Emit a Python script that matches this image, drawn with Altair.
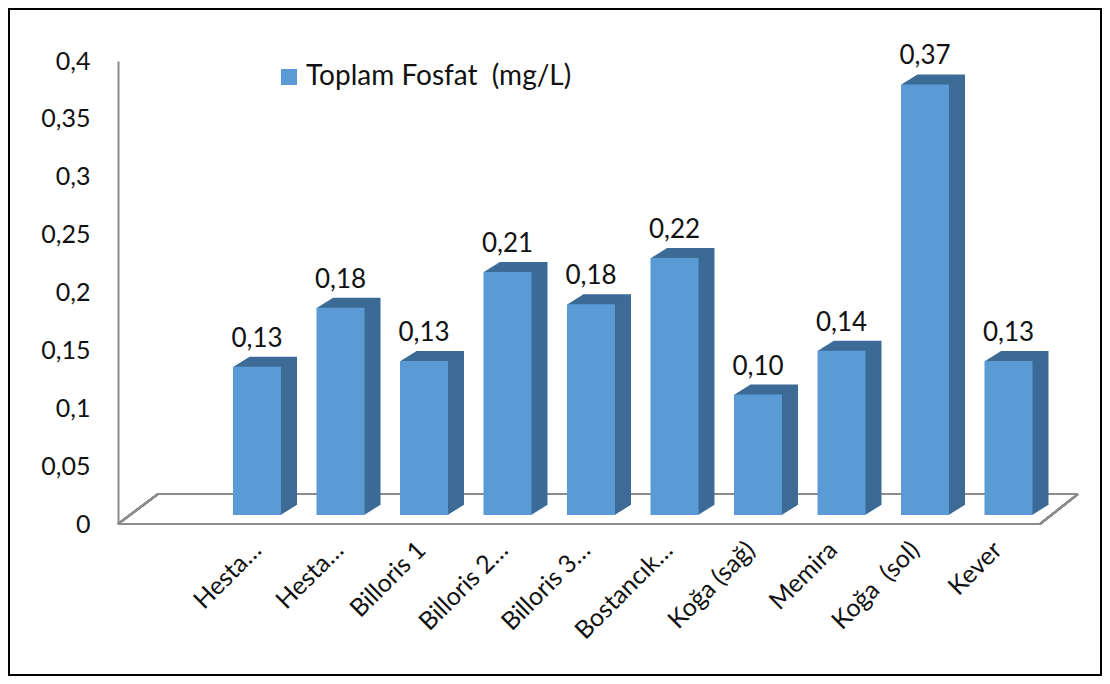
import altair as alt
import pandas as pd

# ---- data ----
categories = ["Hesta…", "Hesta…", "Billoris 1", "Billoris 2…", "Billoris 3…",
              "Bostancık…", "Koğa (sağ)", "Memira", "Koğa\u00a0\u00a0(sol)", "Kever"]
values = [0.128, 0.179, 0.133, 0.210, 0.182, 0.222, 0.104, 0.142, 0.372, 0.133]
series_name = "Toplam Fosfat\u00a0\u00a0(mg/L)"
y_ticks = [0, 0.05, 0.1, 0.15, 0.2, 0.25, 0.3, 0.35, 0.4]

idx = list(range(len(categories)))
df = pd.DataFrame({
    "idx": idx,
    "value": values,
    "series": [series_name] * len(categories),
})

FONT = "Lato"
FRONT = "#5b9bd5"
SIDE = "#3d6b96"
GREY = "#8c8c8c"
INK = "#111111"

W, H = 960, 463
PAD_L, PAD_T, CANVAS_W, CANVAS_H = 110, 53, 1094, 668

label_expr = "[" + ",".join("'" + c + "'" for c in categories) + "][datum.value]"

# band scale used by the bars (front faces)
x_bar = alt.X("idx:O",
              scale=alt.Scale(paddingInner=0.425, paddingOuter=0.961, align=0.7165),
              axis=None)
# category label axis (Excel projects the labels slightly differently from the bars)
x_lab = alt.X("idx:Q",
              scale=alt.Scale(domain=[-1.58, 10.085], nice=False, zero=False),
              axis=alt.Axis(title=None, orient="bottom", values=idx, labelExpr=label_expr,
                            labelAngle=-45, labelAlign="right", labelBaseline="top",
                            labelFont=FONT, labelFontSize=25, labelColor=INK,
                            labelPadding=13, labelLimit=0, labelFlush=False,
                            labelOverlap=False, ticks=False, domain=False, grid=False))
y_enc = alt.Y("value:Q",
              scale=alt.Scale(domain=[0, 0.4], nice=False),
              axis=alt.Axis(title=None, values=y_ticks, format=".2~f",
                            labelExpr="replace(datum.label, '.', ',')",
                            labelFont=FONT, labelFontSize=25, labelColor=INK,
                            labelPadding=28, ticks=False, grid=False,
                            domainColor=GREY, domainWidth=2))

base = alt.Chart(df)

# depth (3D side/top faces) drawn as stacked offset copies behind the front face
DEPTH_X, DEPTH_Y, STEPS = 16, 10, 16
shadow_layers = []
for k in range(STEPS, 0, -1):
    dx = DEPTH_X * k / STEPS
    dy = -9 - DEPTH_Y * k / STEPS
    shadow_layers.append(
        base.mark_bar(color=SIDE, xOffset=dx, x2Offset=dx, yOffset=dy, y2Offset=dy)
        .encode(x=x_bar, y=y_enc)
    )

front = base.mark_bar(yOffset=-9, y2Offset=-9).encode(
    x=x_bar, y=y_enc,
    color=alt.Color("series:N", scale=alt.Scale(range=[FRONT]),
                    legend=alt.Legend(title=None, orient="none", legendX=157, legendY=2,
                                      symbolType="square", symbolSize=256,
                                      symbolStrokeWidth=0, labelFont=FONT,
                                      labelFontSize=28, labelColor=INK,
                                      labelOffset=3, labelLimit=0, padding=0)),
)

text = base.transform_calculate(
    lbl="replace(format(datum.value, '.2f'), '.', ',')"
).mark_text(font=FONT, fontSize=26, color=INK, align="center",
            baseline="alphabetic", yOffset=-29).encode(
    x=x_bar, y=y_enc, text="lbl:N")

# floor of the 3D plot area
floor_front = alt.Chart(df).mark_rule(color=GREY, strokeWidth=2).encode(
    x=alt.value(0), x2=alt.value(922), y=alt.value(H))
floor_back = alt.Chart(df).mark_rule(color=GREY, strokeWidth=2).encode(
    x=alt.value(40), x2=alt.value(W), y=alt.value(H - 30))
floor_left = alt.Chart(df).mark_rule(color=GREY, strokeWidth=2).encode(
    x=alt.value(0), x2=alt.value(40), y=alt.value(H), y2=alt.value(H - 30))
floor_right = alt.Chart(df).mark_rule(color=GREY, strokeWidth=2).encode(
    x=alt.value(922), x2=alt.value(W), y=alt.value(H), y2=alt.value(H - 30))

frame = alt.Chart(df).mark_rect(fillOpacity=0, stroke="black", strokeWidth=2).encode(
    x=alt.value(-PAD_L + 1), x2=alt.value(CANVAS_W - PAD_L - 1),
    y=alt.value(-PAD_T + 1), y2=alt.value(CANVAS_H - PAD_T - 1))

bars = alt.layer(frame, floor_back, floor_left, floor_right, floor_front,
                 *shadow_layers, front, text)

labels_layer = base.mark_point(opacity=0).encode(x=x_lab, y=y_enc)

chart = alt.layer(bars, labels_layer).resolve_scale(x="independent").properties(
    width=W, height=H, background="white",
    autosize=alt.AutoSizeParams(type="none"),
    padding={"left": PAD_L, "top": PAD_T,
             "right": CANVAS_W - PAD_L - W, "bottom": CANVAS_H - PAD_T - H},
).configure_view(strokeWidth=0, stroke="transparent")

chart.save("out.html", embed_options={"renderer": "svg", "actions": False})
